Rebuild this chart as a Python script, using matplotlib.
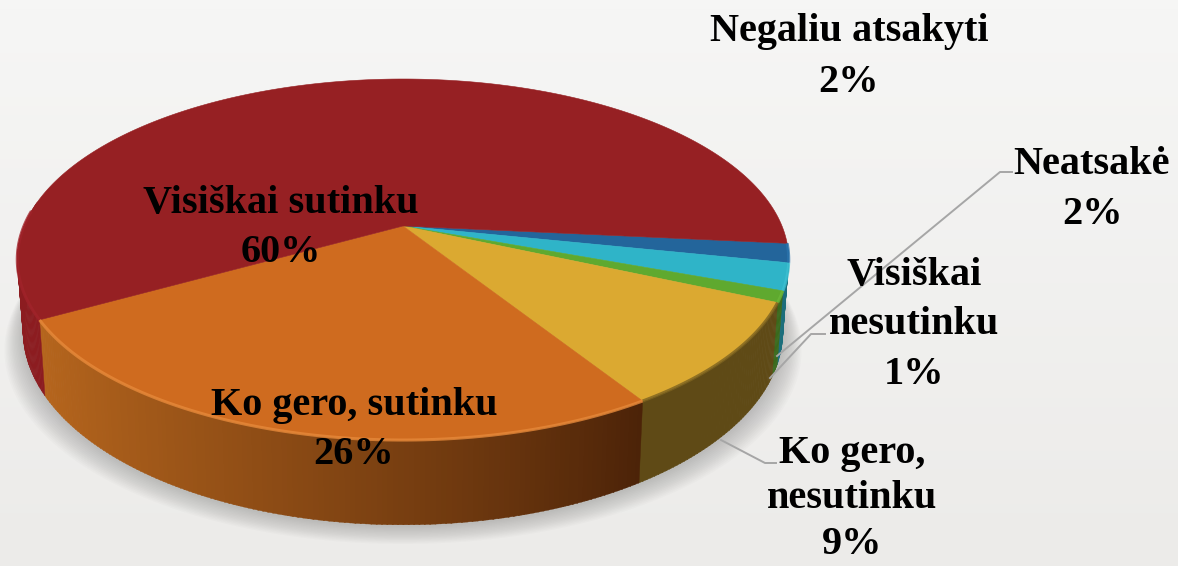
import numpy as np
import matplotlib
matplotlib.use("Agg")
import matplotlib.pyplot as plt
from matplotlib.colors import to_rgb

# ---- data (clockwise from the right-hand edge of the pie) ----
categories = ["Negaliu atsakyti", "Neatsakė", "Visiškai nesutinku",
              "Ko gero, nesutinku", "Ko gero, sutinku", "Visiškai sutinku"]
values = [1.7, 2.4, 1.0, 9.4, 25.8, 59.7]
display_labels = ["Negaliu atsakyti", "Neatsakė", "Visiškai\nnesutinku",
                  "Ko gero,\nnesutinku", "Ko gero, sutinku", "Visiškai sutinku"]
top_colors = ["#23659b", "#2fb4c8", "#5fa92f", "#dba931", "#cf6b1f", "#962023"]
wall_left = ["#1b4a70", "#1c6f7c", "#3a6a1c", "#5f4a16", "#b5651d", "#8c1c20"]
wall_right = ["#1b4a70", "#1c6f7c", "#3a6a1c", "#5f4a16", "#4c2308", "#8c1c20"]
rim_colors = ["#2a74ad", "#3cc0d2", "#6bb838", "#7d6320", "#e6893a", "#a1232a"]

# ---- layout (pixels) ----
W, H = 1178, 566
CX, CY, RX, RY, K = 403.0, 226.0, 379.0, 174.3, 0.1857
DEPTH, SHRINK = 69.0, 0.985
START = 5.6
label_pos = [(849, 32), (1092, 165), (914, 275), (852, 453), (354, 405), (281, 203)]
label_step = [50, 50, 50, 46, 50, 50]
leaders = [None,
           [(1012, 172), (1000, 172), (777, 356)],
           [(825, 334), (811, 334), (770, 378)],
           [(776, 463), (765, 463), (721, 440)],
           None, None]
FS = 29.0

plt.rcParams['font.family'] = ['Liberation Serif', 'DejaVu Serif']


def top(theta):
    t = np.radians(theta)
    u, v = np.cos(t), np.sin(t)
    s = 1 / (1 - K * v)
    return CX + RX * u * s, CY + RY * v * s


def bottom(theta):
    t = np.radians(theta)
    v = np.sin(t)
    s = 1 / (1 - K * v)
    x, y = top(theta)
    return CX + (x - CX) * SHRINK, y + DEPTH * s


def mix(a, b, f):
    a, b = np.array(to_rgb(a)), np.array(to_rgb(b))
    return tuple(a + (b - a) * f)


fig = plt.figure(figsize=(W / 100, H / 100), dpi=100)
ax = fig.add_axes([0, 0, 1, 1])
ax.set_xlim(0, W)
ax.set_ylim(H, 0)
ax.axis("off")

# background
c0, c1 = np.array(to_rgb("#f6f6f5")), np.array(to_rgb("#ecebe9"))
grad = np.linspace(0, 1, 64)[:, None, None] * (c1 - c0) + c0
ax.imshow(grad, extent=(0, W, H, 0), aspect="auto", zorder=0)

# slice boundaries come straight from the values
vals = np.array(values)
angles = START + np.concatenate([[0], np.cumsum(vals)]) / vals.sum() * 360

# soft shadow under the pie
full = np.linspace(-8, 188, 200)
bx, by = bottom(full)
for i in range(14):
    grow = 1 + (14 - i) * 0.0035
    sx = CX + (bx - CX) * grow
    sy = by + (14 - i) * 1.3 + 1
    ax.fill(sx, sy, color="#555555", alpha=0.022, lw=0, zorder=1)

# side wall, drawn in narrow strips so it can carry the shading
for i in range(len(vals)):
    a0, a1 = angles[i], angles[i + 1]
    lo, hi = max(a0, -8), min(a1, 188)
    if hi <= lo:
        continue
    edges = np.linspace(lo, hi, max(2, int((hi - lo) * 1.5) + 1))
    for e0, e1 in zip(edges[:-1], edges[1:]):
        f = (a1 - e0) / (a1 - a0)  # 0 at high-angle (left) end
        col = mix(wall_left[i], wall_right[i], min(1, f) ** 1.3)
        ee = np.linspace(e0, e1 + 0.15, 3)
        tx, ty = top(ee)
        qx, qy = bottom(ee)
        ax.fill(np.r_[tx, qx[::-1]], np.r_[ty, qy[::-1]], color=col, lw=0.3,
                ec=col, zorder=2)

# top surface
for i in range(len(vals)):
    th = np.linspace(angles[i], angles[i + 1], max(8, int(values[i] * 6)))
    x, y = top(th)
    ax.fill(np.r_[CX, x], np.r_[CY, y], color=top_colors[i], ec=top_colors[i],
            lw=0.4, zorder=3)

# bevel along the front rim
for i in range(len(vals)):
    lo, hi = angles[i], min(angles[i + 1], 185)
    th = np.linspace(lo, hi, 80)
    x, y = top(th)
    ax.plot(x, y, color=rim_colors[i], lw=2.2, alpha=0.8, zorder=4,
            solid_capstyle="butt")

# leader lines
for pts in leaders:
    if pts:
        ax.plot(*zip(*pts), color="#a6a6a6", lw=1.4, zorder=5)

# labels
for name, val, (x, y), step in zip(display_labels, values, label_pos, label_step):
    lines = name.split("\n") + [f"{round(val)}%"]
    for j, line in enumerate(lines):
        ax.text(x, y + j * step, line, ha="center", va="center", fontsize=FS,
                fontweight="bold", color="black", zorder=6)

fig.savefig("out.png", dpi=100)
